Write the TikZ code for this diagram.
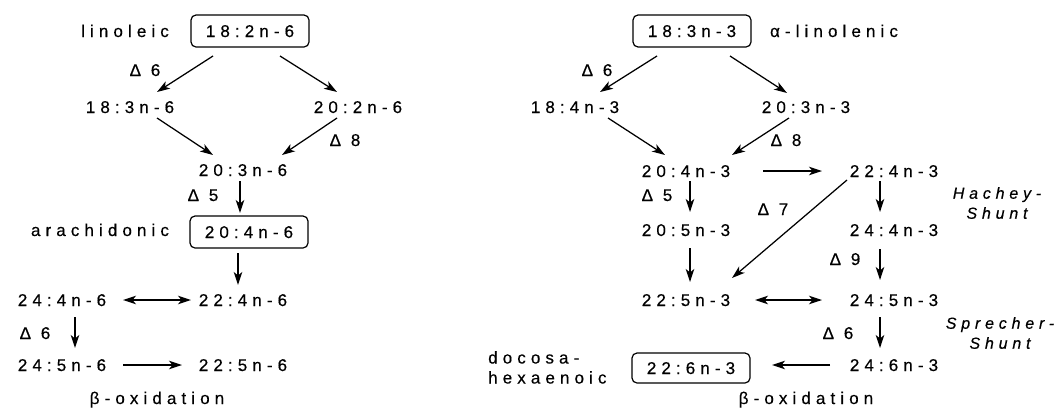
\documentclass[tikz,border=0pt]{standalone}
\usepackage{fontspec}
\setmainfont{Liberation Sans}[LetterSpace=30, FakeBold=0.4]
\usetikzlibrary{arrows.meta,calc}

\begin{document}
\begin{tikzpicture}[x=1pt,y=-1pt,
  lbl/.style={inner sep=0pt, font=\fontsize{17}{20}\selectfont, text height=12pt, text depth=0pt},
  fa/.style={lbl, draw, line width=1.2pt, rounded corners=5pt, minimum width=118pt, minimum height=32pt},
  sh/.style={inner sep=0pt, font=\fontsize{16}{20}\selectfont\itshape, align=center},
  arr/.style={-{Stealth[length=13pt,width=8.5pt,inset=3.5pt]}, line width=1.25pt},
  darr/.style={{Stealth[length=13pt,width=8.5pt,inset=3.5pt]}-{Stealth[length=13pt,width=8.5pt,inset=3.5pt]}, line width=1.25pt}]
\useasboundingbox (0,0) rectangle (1056,408);

% ---------- n-6 series ----------
\node[lbl] (lin) at (125,31) {linoleic};
\node[fa]  (a) at (250,31) {18:2n-6};
\node[lbl] (b) at (130,107) {18:3n-6};
\node[lbl] (c) at (358,107) {20:2n-6};
\node[lbl] (d) at (243,170) {20:3n-6};
\node[lbl] (ara) at (100,230) {arachidonic};
\node[fa]  (e) at (249,232) {20:4n-6};
\node[lbl] (f) at (243,300) {22:4n-6};
\node[lbl] (g) at (62,300) {24:4n-6};
\node[lbl] (h) at (62,365) {24:5n-6};
\node[lbl] (i) at (243,365) {22:5n-6};
\node[lbl] (box6) at (157,398) {β-oxidation};

\node[lbl] (d6a) at (145,70) {Δ 6};
\node[lbl] (d8a) at (345,140) {Δ 8};
\node[lbl] (d5a) at (203,195) {Δ 5};
\node[lbl] (d6b) at (35,333) {Δ 6};

\draw[arr] ($(a)+(-37,25)$) -- ($(b)+(27,-15)$);
\draw[arr] ($(a)+(30,25)$) -- ($(c)+(-21,-15)$);
\draw[arr] ($(b)+(27,11)$) -- ($(d)+(-30,-15)$);
\draw[arr] ($(c)+(-21,11)$) -- ($(d)+(39,-15)$);
\draw[arr] ($(d)+(-3,11)$) -- ($(e)+(-9,-19)$);
\draw[arr] ($(e)+(-11,21)$) -- ($(f)+(-5,-15)$);
\draw[darr] ($(g)+(61,0)$) -- ($(f)+(-52,0)$);
\draw[arr] ($(g)+(13,17)$) -- ($(h)+(13,-17)$);
\draw[arr] ($(h)+(61,0)$) -- ($(i)+(-61,0)$);

% ---------- n-3 series ----------
\node[fa]  (A) at (692,31) {18:3n-3};
\node[lbl] (aln) at (834,31) {α-linolenic};
\node[lbl] (B) at (575,107) {18:4n-3};
\node[lbl] (C) at (806,107) {20:3n-3};
\node[lbl] (D) at (686,171) {20:4n-3};
\node[lbl] (E) at (894,171) {22:4n-3};
\node[lbl] (F) at (686,230) {20:5n-3};
\node[lbl] (G) at (894,230) {24:4n-3};
\node[lbl] (H) at (686,300) {22:5n-3};
\node[lbl] (I) at (894,300) {24:5n-3};
\node[lbl] (J) at (894,365) {24:6n-3};
\node[fa, minimum height=30pt] (K) at (691,368) {22:6n-3};
\node[inner sep=0pt, font=\fontsize{17}{20}\selectfont, align=left, anchor=north west] (dha) at (488,351) {docosa-\\hexaenoic};
\node[lbl] (box3) at (806,398) {β-oxidation};
\node[sh] (hs) at (997,203) {Hachey-\\Shunt};
\node[sh] (ss) at (1000,333) {Sprecher-\\Shunt};

\node[lbl] (D6a) at (597,70) {Δ 6};
\node[lbl] (D8a) at (786,140) {Δ 8};
\node[lbl] (D5a) at (657,195) {Δ 5};
\node[lbl] (D7a) at (773,209) {Δ 7};
\node[lbl] (D9a) at (845,259) {Δ 9};
\node[lbl] (D6b) at (838,333) {Δ 6};

\draw[arr] ($(A)+(-35,25)$) -- ($(B)+(25,-15)$);
\draw[arr] ($(A)+(38,25)$) -- ($(C)+(-19,-14)$);
\draw[arr] ($(B)+(33,11)$) -- ($(D)+(-21,-16)$);
\draw[arr] ($(C)+(-17,11)$) -- ($(D)+(46,-16)$);
\draw[arr] ($(D)+(77,0)$) -- ($(E)+(-72,0)$);
\draw[arr] ($(D)+(4,10)$) -- ($(F)+(4,-18)$);
\draw[arr] ($(F)+(4,18)$) -- ($(H)+(4,-18)$);
\draw[arr] ($(E)+(-47,9)$) -- ($(H)+(46,-22)$);
\draw[arr] ($(E)+(-14,10)$) -- ($(G)+(-14,-18)$);
\draw[arr] ($(G)+(-14,19)$) -- ($(I)+(-14,-20)$);
\draw[darr] ($(H)+(69,0)$) -- ($(I)+(-72,0)$);
\draw[arr] ($(I)+(-14,17)$) -- ($(J)+(-14,-17)$);
\draw[arr] ($(J)+(-64,0)$) -- ($(K)+(81,-3)$);
\end{tikzpicture}
\end{document}
